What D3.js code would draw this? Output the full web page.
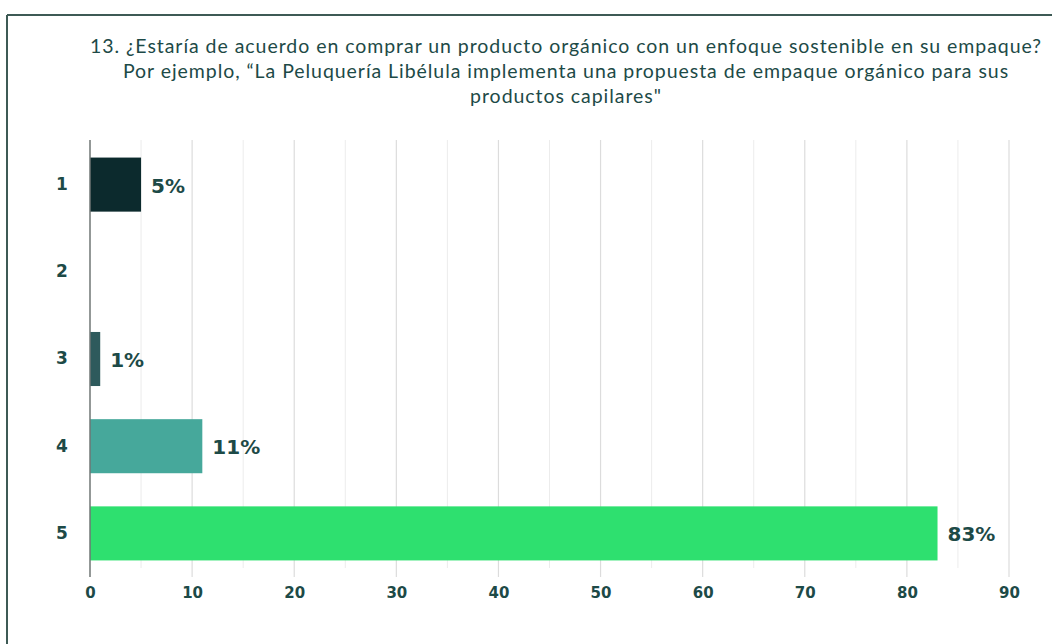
<!DOCTYPE html>
<html><head><meta charset="utf-8">
<script src="https://cdn.jsdelivr.net/npm/d3@7"></script>
<style>body{margin:0;background:#fff}svg{display:block}</style>
</head><body>
<svg id="c" width="1052" height="644"></svg>
<script>
const categories = ["1","2","3","4","5"];
const values = [5, 0, 1, 11, 83];
const valueLabels = ["5%", "", "1%", "11%", "83%"];
const barColors = ["#0c2a2d", "#3a9e94", "#2e5a5c", "#46a89b", "#2ee06f"];
const xTicks = [0,10,20,30,40,50,60,70,80,90];
const titleLines = [
  "13. ¿Estaría de acuerdo en comprar un producto orgánico con un enfoque sostenible en su empaque?",
  "Por ejemplo, “La Peluquería Libélula implementa una propuesta de empaque orgánico para sus",
  "productos capilares\""
];

const svg = d3.select("#c");
const textColor = "#1d4a47";
const numFont = "'DejaVu Sans', sans-serif";

// frame
svg.append("line").attr("x1",7).attr("x2",1052).attr("y1",15).attr("y2",15).attr("stroke","#3d5a55").attr("stroke-width",2);
svg.append("line").attr("x1",7).attr("x2",7).attr("y1",15).attr("y2",644).attr("stroke","#3d5a55").attr("stroke-width",2);

// title
svg.append("g").selectAll("text").data(titleLines).join("text")
  .attr("x",566).attr("y",(d,i)=>53+i*25)
  .attr("text-anchor","middle")
  .attr("font-family","Lato, sans-serif").attr("font-size",19.5).attr("letter-spacing","0.95")
  .attr("fill",textColor).text(d=>d);

const x = d3.scaleLinear().domain([0,90]).range([90,1009]);
const y = d3.scaleBand().domain(categories).range([141,577]).paddingInner(0.38).paddingOuter(0.19);

// minor grid
const minor = d3.range(5, 95, 10);
svg.append("g").selectAll("line").data(minor).join("line")
  .attr("x1",d=>x(d)).attr("x2",d=>x(d)).attr("y1",140).attr("y2",568)
  .attr("stroke","#ececec").attr("stroke-width",1);
// major grid
svg.append("g").selectAll("line").data(xTicks.slice(1)).join("line")
  .attr("x1",d=>x(d)).attr("x2",d=>x(d)).attr("y1",140).attr("y2",577)
  .attr("stroke","#dcdcdc").attr("stroke-width",1.2);

// bars
svg.append("g").selectAll("rect").data(values).join("rect")
  .attr("x",x(0)).attr("y",(d,i)=>y(categories[i]))
  .attr("width",d=>Math.max(0,x(d)-x(0))).attr("height",y.bandwidth())
  .attr("fill",(d,i)=>barColors[i]);

// zero axis line
svg.append("line").attr("x1",x(0)).attr("x2",x(0)).attr("y1",140).attr("y2",577)
  .attr("stroke","#6f7675").attr("stroke-width",1.5);

// x axis tick labels
const xAxis = d3.axisBottom(x).tickValues(xTicks).tickSize(0).tickPadding(0);
const gx = svg.append("g").attr("transform","translate(0,598)").call(xAxis);
gx.select(".domain").remove();
gx.selectAll("text").attr("font-family",numFont).attr("font-weight",700)
  .attr("font-size",15).attr("fill",textColor).attr("dy",0);

// y axis labels
const yAxis = d3.axisLeft(y).tickSize(0).tickPadding(0);
const gy = svg.append("g").attr("transform","translate(68,0)").call(yAxis);
gy.select(".domain").remove();
gy.selectAll("text").attr("font-family",numFont).attr("font-weight",700)
  .attr("font-size",17).attr("fill",textColor).attr("text-anchor","middle").attr("dx",-6);

// value labels
svg.append("g").selectAll("text").data(values).join("text")
  .attr("x",d=>x(d)+10).attr("y",(d,i)=>y(categories[i])+y.bandwidth()/2+8)
  .attr("font-family",numFont).attr("font-weight",700)
  .attr("font-size",20).attr("fill",textColor)
  .text((d,i)=>valueLabels[i]);
</script>
</body></html>
